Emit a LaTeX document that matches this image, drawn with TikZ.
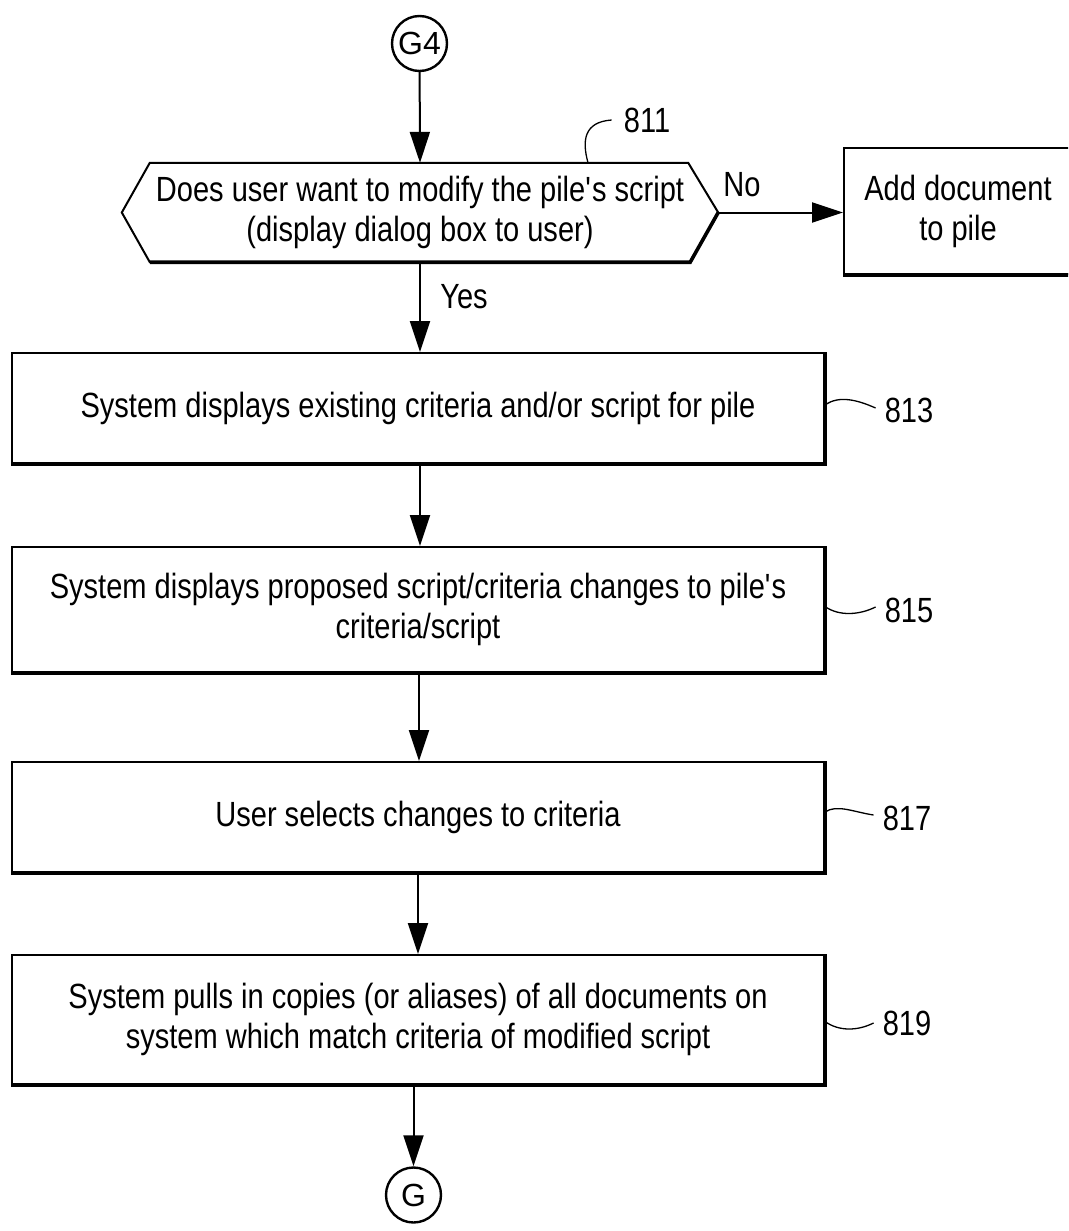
\documentclass[tikz,border=0pt]{standalone}
\usepackage{fontspec}
\setmainfont{Liberation Sans}[FakeStretch=0.83]
\newfontfamily\circfont{Liberation Sans}
\usetikzlibrary{arrows.meta}
\tikzset{
  txt/.style={font=\fontsize{35}{40}\selectfont, align=center, inner sep=0pt},
  boxnode/.style={txt, draw, line width=2pt, minimum width=812pt},
  thickedge/.style={line width=3.6pt, line join=miter},
  conn/.style={circle, draw, line width=2.4pt, minimum size=55pt, inner sep=0pt, font=\circfont\fontsize{32}{36}\selectfont},
  arr/.style={line width=2pt, -{Triangle[length=31pt,width=20pt]}},
  leader/.style={line width=1.3pt},
  lbl/.style={font=\fontsize{35}{40}\selectfont, inner sep=0pt}
}
\begin{document}
\begin{tikzpicture}[x=1pt,y=-1pt]
\useasboundingbox (0,0) rectangle (1068,1231);
\clip (0,0) rectangle (1068,1231);

% connectors
\node[conn] (g4) at (419.5,43.5) {G4};
\node[conn] (g) at (413.5,1195) {G};

% decision (hexagon)
\node[txt, minimum width=596pt, minimum height=99pt] (dec) at (420,212.5)
  {Does user want to modify the pile\textquotesingle s script\\(display dialog box to user)};
\draw[line width=2pt, line join=miter]
  (dec.west) -- ([xshift=28pt]dec.north west) -- ([xshift=-30pt]dec.north east)
  -- (dec.east) -- ([xshift=-28pt]dec.south east) -- ([xshift=28pt]dec.south west) -- cycle;
\draw[thickedge] (dec.east) -- ([xshift=-28pt]dec.south east) -- ([xshift=28pt]dec.south west);

% add document box
\node[boxnode, minimum width=228pt, minimum height=126pt] (add) at (958,211)
  {Add document\\to pile};

% process boxes
\node[boxnode, minimum height=110pt] (b813) at (418,408)
  {System displays existing criteria and/or script for pile};
\node[boxnode, minimum height=125pt] (b815) at (418,609.5)
  {System displays proposed script/criteria changes to pile\textquotesingle s\\criteria/script};
\node[boxnode, minimum height=110pt] (b817) at (418,817)
  {User selects changes to criteria};
\node[boxnode, minimum height=129pt] (b819) at (418,1019.5)
  {System pulls in copies (or aliases) of all documents on\\system which match criteria of modified script};

\foreach \n in {add,b813,b815,b817,b819}
  \draw[thickedge] (\n.north east) -- (\n.south east) -- (\n.south west);

% flow arrows
\draw[arr] (g4) -- (dec.north);
\draw[arr] (dec.south) -- (dec.south |- b813.north);
\draw[arr] ([xshift=2pt]b813.south) -- ([xshift=2pt]b815.north);
\draw[arr] ([xshift=1pt]b815.south) -- ([xshift=1pt]b817.north);
\draw[arr] (b817.south) -- (b819.north);
\draw[arr] (b819.south -| g) -- (g);
\draw[arr] (dec.east) -- (dec.east -| add.west);

% branch labels
\node[lbl] (no) at (742,185) {No};
\node[lbl] (yes) at (464,297) {Yes};

% reference numerals
\node[lbl] (l811) at (647,120) {811};
\node[lbl] (l813) at (909,410) {813};
\node[lbl] (l815) at (909,610) {815};
\node[lbl] (l817) at (907,818) {817};
\node[lbl] (l819) at (907,1023) {819};

\draw[leader] ([xshift=168pt]dec.north) .. controls +(-6,-22) and +(-28,2) .. ([xshift=-12pt]l811.west);
\draw[leader] ([yshift=3pt]b813.east) .. controls +(14,-10) and +(-18,-8) .. ([xshift=-9pt,yshift=2pt]l813.west);
\draw[leader] ([yshift=3pt]b815.east) .. controls +(14,10) and +(-16,8) .. ([xshift=-9pt,yshift=3pt]l815.west);
\draw[leader] ([yshift=5pt]b817.east) .. controls +(12,-8) and +(-20,-3) .. ([xshift=-9pt,yshift=3pt]l817.west);
\draw[leader] ([yshift=-2pt]b819.east) .. controls +(14,10) and +(-16,8) .. ([xshift=-9pt]l819.west);
\end{tikzpicture}
\end{document}
